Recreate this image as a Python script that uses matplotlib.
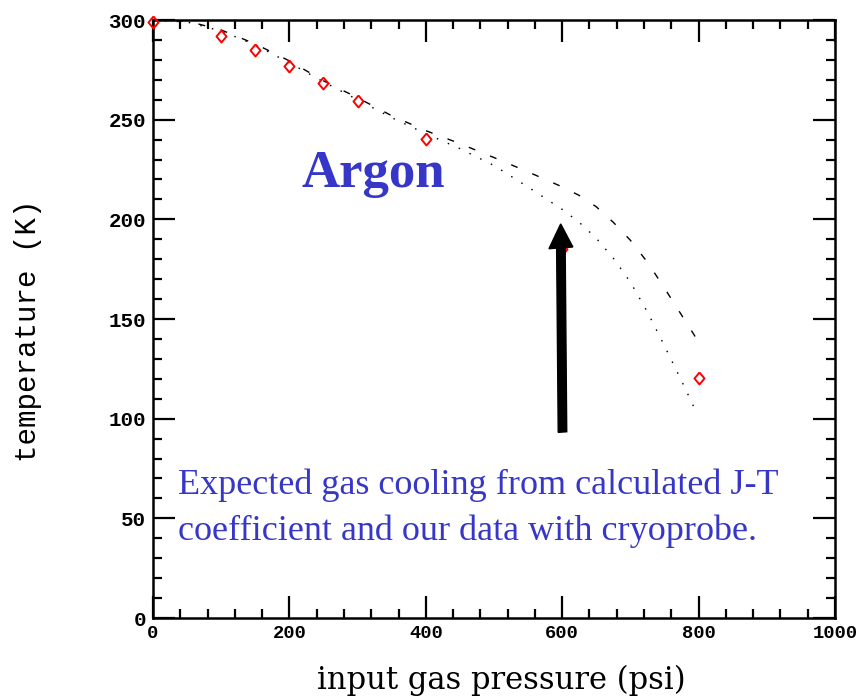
import matplotlib.pyplot as plt
from matplotlib.ticker import MultipleLocator

# measured temperatures with cryoprobe
p_data = [0, 100, 150, 200, 250, 300, 400, 600, 800]
t_data = [299, 292, 285, 277, 268.5, 259.5, 240.5, 185, 120.5]

# expected cooling from calculated J-T coefficient (two estimates)
p_calc1 = [0, 50, 100, 150, 200, 250, 300, 350, 400, 450, 500, 550, 600,
           625, 650, 675, 700, 725, 750, 775, 800]
t_calc1 = [300, 299.5, 295, 288, 279.5, 269.5, 261, 252, 244.5, 238, 231, 223.8, 216.3,
           212, 206.3, 198.5, 189.5, 178.5, 165.5, 152, 138.5]
p_calc2 = [0, 50, 100, 150, 200, 250, 300, 350, 400, 450, 500, 550, 600,
           625, 650, 675, 700, 725, 750, 775, 795]
t_calc2 = [300, 299, 294.5, 287.5, 278.5, 269, 260, 251, 243, 235.5, 227, 216.2, 205,
           198.5, 190.5, 180.5, 168.5, 153.5, 136.5, 119, 104.5]

blue = '#3636c8'
# slightly tall open diamond
diamond = [(0, 1), (0.84, 0), (0, -1), (-0.84, 0), (0, 1)]

fig = plt.figure(figsize=(8.61, 7.0), dpi=100)
ax = fig.add_axes([0.1777, 0.1171, 0.7921, 0.8543])

ax.plot(p_calc1, t_calc1, color='black', lw=1.0, dashes=(5, 11.5), dash_capstyle='butt', zorder=2)
ax.plot(p_calc2, t_calc2, color='black', lw=1.0, dashes=(1.1, 7.5), dash_capstyle='butt', zorder=2)
ax.plot(p_data, t_data, linestyle='none', marker=diamond, ms=8.6, mfc='none', mec='red', mew=1.4,
        clip_on=False, zorder=3)

# arrow pointing at the 600 psi point
ax.arrow(600.4, 93.3, -2.6, 104.4, width=12.5, head_width=35, head_length=12,
         length_includes_head=True, fc='black', ec='black', zorder=4)

ax.text(322.6, 216.4, 'Argon', color=blue, fontsize=38, fontweight='bold',
        family='Liberation Serif', ha='center', va='baseline')
ax.text(36.7, 62.2, 'Expected gas cooling from calculated J-T', color=blue, fontsize=26,
        family='Liberation Serif', ha='left', va='baseline')
ax.text(36.7, 39.1, 'coefficient and our data with cryoprobe.', color=blue, fontsize=26,
        family='Liberation Serif', ha='left', va='baseline')

ax.set_xlim(0, 1000)
ax.set_ylim(0, 300)
ax.xaxis.set_major_locator(MultipleLocator(200))
ax.xaxis.set_minor_locator(MultipleLocator(40))
ax.yaxis.set_major_locator(MultipleLocator(50))
ax.yaxis.set_minor_locator(MultipleLocator(10))
ax.tick_params(which='both', direction='in', top=True, right=True, width=1.6)
ax.tick_params(which='major', length=16)
ax.tick_params(which='minor', length=6.5)
ax.tick_params(axis='x', pad=5)
ax.tick_params(axis='y', pad=5)
for lab in ax.get_yticklabels():
    lab.set_family('Liberation Mono')
    lab.set_fontweight('bold')
    lab.set_fontsize(15)
for lab in ax.get_xticklabels():
    lab.set_family('Liberation Mono')
    lab.set_fontweight('bold')
    lab.set_fontsize(13.5)
for sp in ax.spines.values():
    sp.set_linewidth(1.8)

ax.text(-0.183, 0.48, 'temperature (K)', transform=ax.transAxes, rotation=90,
        ha='center', va='center', fontsize=21, family='Liberation Mono')
ax.text(0.51, -0.104, 'input gas pressure (psi)', transform=ax.transAxes,
        ha='center', va='center', fontsize=22, family='DejaVu Serif')

fig.savefig('out.png', dpi=100)
